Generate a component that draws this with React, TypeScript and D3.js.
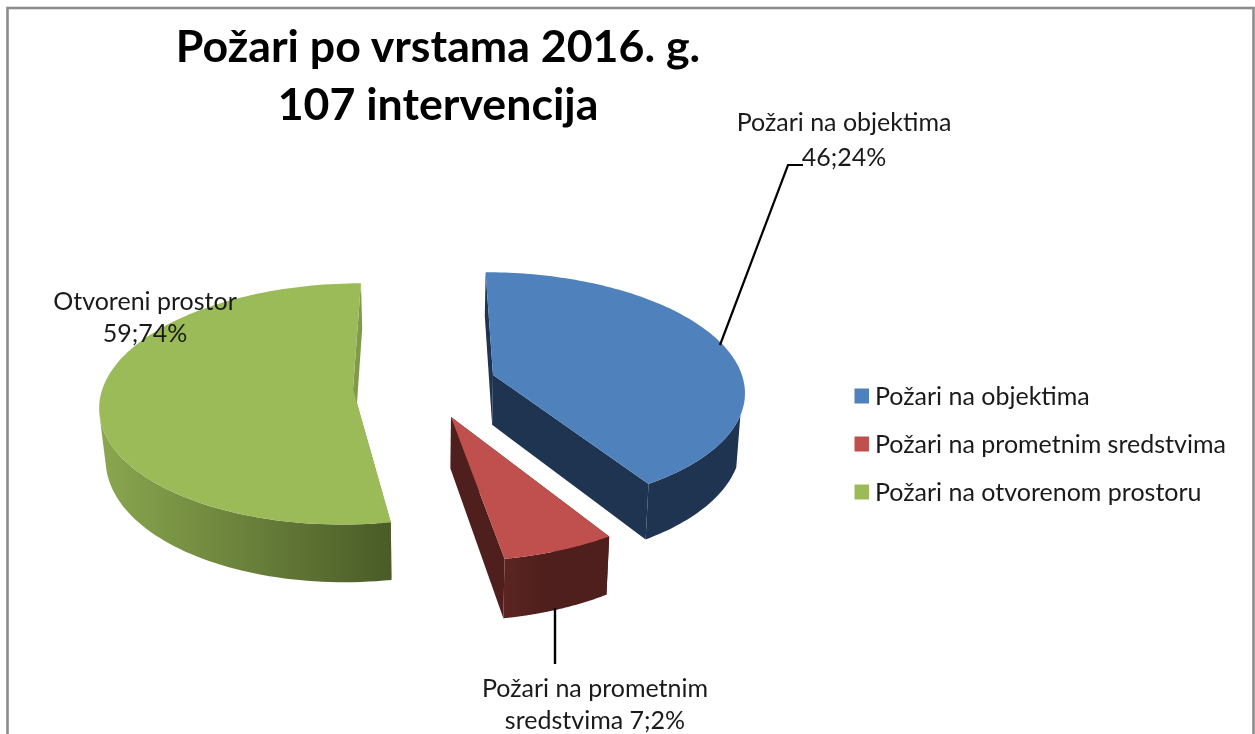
import * as d3 from 'd3'

const WIDTH = 1255
const HEIGHT = 734

const titleLines = ['Požari po vrstama 2016. g.', '107 intervencija']
const categories = ['Požari na objektima', 'Požari na prometnim sredstvima', 'Požari na otvorenom prostoru']
const values = [46, 7, 59]
const percents = [24, 2, 74]
const topColors = ['#4f81bd', '#c0504d', '#9bbb59']
const cutColors = ['#1f3450', '#4e1f1c', '#7f9b49']
const wallColors = [
  ['#1f3450', '#1f3450'],
  ['#6e2c29', '#4e1f1c'],
  ['#8aa74f', '#4a5b27'],
]

// the fake 3D: each slice is moved out to its own apex, then projected with a bit of perspective
const CX = 425
const CY = 398
const DEPTH = 8
const WALL = 51
const sliceLayout = [
  { apex: [493, 375], rx: 255, ry: 121, shrink: 0.987, wallX: [484, 745] },
  { apex: [451, 417], rx: 255, ry: 121, shrink: 0.985, wallX: [450, 610] },
  { apex: [353, 389], rx: 253, ry: 121, shrink: 0.98, wallX: [100, 392] },
]

const pie = d3.pie<number>().sort(null).startAngle(0).endAngle(2 * Math.PI)
const arcs = pie(values)

const outline = d3.line()

function makeProjection(layout: (typeof sliceLayout)[number]) {
  const s = (layout.apex[1] - CY) / layout.ry
  const y0 = (s * DEPTH) / (DEPTH + s)
  const x0 = ((layout.apex[0] - CX) / layout.rx) * ((DEPTH - y0) / DEPTH)

  const project = (angle: number, r: number, bottom = false): [number, number] => {
    const x = x0 + r * Math.sin(angle)
    const y = y0 - r * Math.cos(angle)
    const p = DEPTH / (DEPTH - y)
    const sx = CX + layout.rx * x * p
    const sy = CY + layout.ry * y * p
    if (!bottom) return [sx, sy]
    return [CX + (sx - CX) * layout.shrink, sy + WALL * p]
  }
  return { project, y0 }
}

function Slice({ index }: { index: number }) {
  const arc = arcs[index]
  const layout = sliceLayout[index]
  const { project, y0 } = makeProjection(layout)
  const angleAt = d3.scaleLinear().domain([0, 120]).range([arc.startAngle, arc.endAngle])
  const steps = d3.range(0, 121).map((i) => angleAt(i))

  const top = steps.map((a) => project(a, 1))
  const bottom = steps.map((a) => project(a, 1, true))
  const apexTop = project(0, 0)
  const apexBottom = project(0, 0, true)

  // outer wall starts at the widest point of the rim, behind that it can't be seen
  const front = steps.filter((a) => y0 - Math.cos(a) > 1 / DEPTH)
  const frontTop = front.map((a) => project(a, 1))
  const frontBottom = front.map((a) => project(a, 1, true))

  const topFace = outline([apexTop, ...top]) + 'Z'
  const outer = outline([...frontTop, ...frontBottom.reverse()]) + 'Z'
  const cutStart = outline([apexTop, top[0], bottom[0], apexBottom]) + 'Z'
  const cutEnd = outline([apexTop, top[120], bottom[120], apexBottom]) + 'Z'
  const gradientId = `wall-${index}`

  return (
    <g>
      <defs>
        <linearGradient
          id={gradientId}
          gradientUnits="userSpaceOnUse"
          x1={layout.wallX[0]}
          x2={layout.wallX[1]}
          y1={0}
          y2={0}
        >
          <stop offset="0%" stopColor={wallColors[index][0]} />
          <stop offset={index === 1 ? '60%' : '100%'} stopColor={wallColors[index][1]} />
        </linearGradient>
      </defs>
      <path d={cutStart} fill={cutColors[index]} />
      <path d={cutEnd} fill={cutColors[index]} />
      <path d={outer} fill={`url(#${gradientId})`} />
      <path d={topFace} fill={topColors[index]} />
    </g>
  )
}

const FONT = 'Lato, Carlito, "Open Sans", sans-serif'

export default function App() {
  const legendY = d3.scalePoint<string>().domain(categories).range([396.5, 492.5])

  return (
    <svg
      width={WIDTH}
      height={HEIGHT}
      style={{ position: 'absolute', left: 0, top: 0, display: 'block', background: '#fff', filter: 'blur(0.4px)' }}
      fontFamily={FONT}
    >
      <rect x={7.5} y={8} width={1246} height={HEIGHT + 20} fill="none" stroke="#8c8c8c" strokeWidth={2.6} />

      {titleLines.map((line, i) => (
        <text key={line} x={438} y={62 + i * 58} textAnchor="middle" fontSize={44.7} fontWeight={700} fill="#000">
          {line}
        </text>
      ))}

      {[2, 0, 1].map((i) => (
        <Slice key={i} index={i} />
      ))}

      {/* leader lines */}
      <path d="M720,345L788,165L803,165" fill="none" stroke="#000" strokeWidth={2.2} />
      <path d="M555,608L555,664" fill="none" stroke="#000" strokeWidth={2.4} />

      <g fontSize={25} fill="#1a1a1a" textAnchor="middle">
        <text x={844} y={131}>{categories[0]}</text>
        <text x={844} y={166}>{`${values[0]};${percents[0]}%`}</text>
        <text x={145} y={310}>Otvoreni prostor</text>
        <text x={145} y={342}>{`${values[2]};${percents[2]}%`}</text>
        <text x={595} y={697}>Požari na prometnim</text>
        <text x={595} y={729}>{`sredstvima ${values[1]};${percents[1]}%`}</text>
      </g>

      {categories.map((name, i) => (
        <g key={name} transform={`translate(0,${legendY(name)})`}>
          <rect x={854.5} y={-8} width={14.5} height={15} fill={topColors[i]} />
          <text x={875} y={8} fontSize={25} fill="#1a1a1a">
            {name}
          </text>
        </g>
      ))}
    </svg>
  )
}
